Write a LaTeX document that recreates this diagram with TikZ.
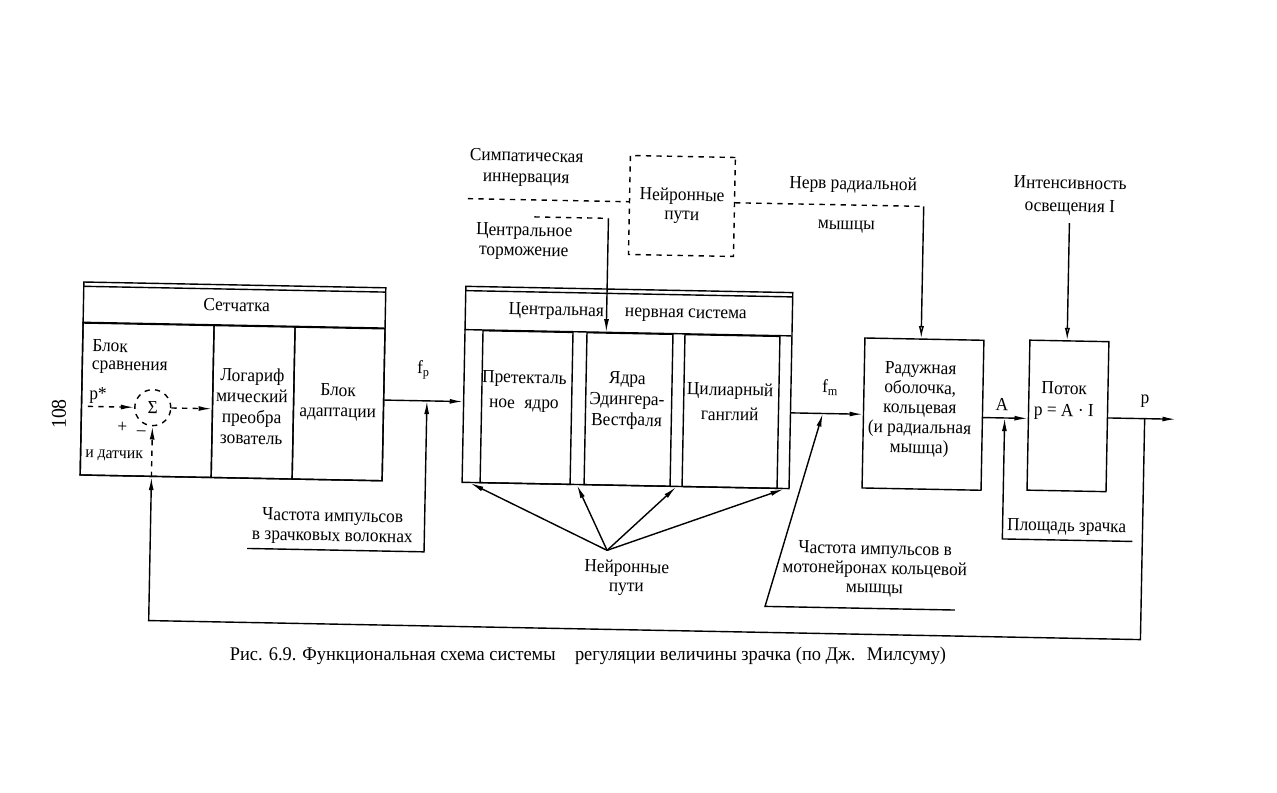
\documentclass[tikz,border=0pt]{standalone}
\usepackage{fontspec}
\setmainfont{Liberation Serif}[FakeStretch=0.94]
\newfontfamily\capfont{Liberation Serif}[FakeStretch=0.95]
\usetikzlibrary{calc}
\usetikzlibrary{positioning}
\usetikzlibrary{arrows.meta}
\tikzset{
  blk/.style 2 args={draw, anchor=north west, inner sep=0pt,
    minimum width=#1*0.02cm, minimum height=#2*0.02cm},
  lh/.style={font=\fontsize{10.5pt}{#1}\selectfont},
  openarr/.style={-{Latex[open,length=7pt,width=3pt]}},
}

\begin{document}
\begin{tikzpicture}[x=0.02cm, y=-0.02cm, line width=0.8pt,
  >={Latex[length=7.5pt,width=2.8pt]},
  every node/.style={font=\fontsize{10.5pt}{11.5pt}\selectfont, inner sep=1pt}]
  \useasboundingbox[fill=white] (0,0) rectangle (1277,793);
  \node[rotate=90, font=\fontsize{12pt}{13pt}\selectfont] (pagenum) at (59,414) {108};

  \begin{scope}[rotate around={-1.1:(640,400)}, transform shape]
  % retina
  \node[blk={302}{193}] (retina) at (81,292) {};
  \draw (81,297) -- (383,297);
  \draw (81,333) -- (383,333);
  \node[blk={131}{152}] (cmpcell) at (81,333) {};
  \node[blk={81}{152}] (logcell) at (212,333) {};
  \node[blk={90}{152}] (adcell) at (293,333) {};
  \node (rettitle) at (235,313) {Сетчатка};
  \node[align=left, anchor=west, lh=10.2pt] (cmptxt) at (89,367) {Блок\\сравнения};
  \node (pstar) at (98,406) {p*};
  \node[draw, dashed, circle, minimum size=36*0.02cm, inner sep=0pt] (sum) at (153,417) {Σ};
  \node (plus) at (123,437) {+};
  \node (minus) at (142,443) {–};
  \node[font=\fontsize{9.5pt}{11pt}\selectfont, anchor=west] (sensor) at (84,466) {и датчик};
  \node[align=center, lh=11.9pt] (logtxt) at (252,414) {Логариф\\мический\\преобра\\зователь};
  \node[align=center, lh=11.9pt] (adtxt) at (338,408) {Блок\\адаптации};

  % central nervous system
  \node[blk={327}{196}] (cns) at (463,289) {};
  \draw (463,294) -- (790,294);
  \draw (463,333) -- (790,333);
  \node[blk={90}{152}] (pret) at (481,333) {};
  \node[blk={86}{152}] (edw) at (585,333) {};
  \node[blk={95}{152}] (cil) at (683,333) {};
  \node (cnstitle) at (626,313) {Центральная\hspace{12pt}нервная система};
  \node[align=center, lh=14.2pt] (prettxt) at (524,394) {Претекталь\\ное\hspace{3pt} ядро};
  \node[align=center, lh=11.9pt] (edwtxt) at (627,401) {Ядра\\Эдингера-\\Вестфаля};
  \node[align=center, lh=14.2pt] (ciltxt) at (730,400) {Цилиарный\\ганглий};

  % iris and light flux
  \node[blk={119}{150}] (iris) at (863,333) {};
  \node[align=center, lh=11.3pt] (iristxt) at (920,404) {Радужная\\оболочка,\\кольцевая\\(и радиальная\\мышца)};
  \node[blk={79}{150}] (flux) at (1028,332) {};
  \node[align=center, lh=12.5pt] (fluxtxt) at (1064,393) {Поток\\p = A · I};

  % upper inputs
  \node[blk={105}{99}, dashed, align=center, lh=11pt] (npath) at (625,155) {Нейронные\\пути};
  \node[align=center, lh=11.9pt] (symp) at (522,170) {Симпатическая\\иннервация};
  \coordinate (sympin) at (464,202);
  \draw[dashed] (sympin) -- (sympin -| npath.west);
  \node[align=center, lh=11.3pt] (inhib) at (521,244) {Центральное\\торможение};
  \coordinate (inhibin) at (531,219);
  \coordinate (inhibc) at (605,219);
  \draw[dashed] (inhibin) -- (inhibc);
  \draw[->] (inhibc) -- (inhibc |- pret.north);
  \node (nerv1) at (849,181) {Нерв радиальной};
  \node (nerv2) at (843,223) {мышцы};
  \coordinate (nervc) at (920,201);
  \draw[dashed] (npath.east |- nervc) -- (nervc);
  \draw[openarr] (nervc) -- (nervc |- iris.north);
  \node[align=center, lh=13pt] (intens) at (1066,188) {Интенсивность\\освещения I};
  \coordinate (lightin) at (1066,215);
  \draw[openarr] (lightin) -- (lightin |- flux.north);

  % main signal path
  \coordinate (pin) at (88,417);
  \draw[dashed, ->] (pin) -- (sum.west);
  \draw[dashed, ->] (sum.east) -- (sum.east -| logcell.west);
  \coordinate (fpj) at (427,405);
  \node (fp) at (423,374) {f\textsubscript{p}};
  \draw[->] (fpj -| retina.east) -- (fpj -| cns.west);
  \coordinate (fpu) at (250,556);
  \draw[->] (fpu) -- (fpu -| fpj) -- (fpj);
  \node[align=center, lh=11.3pt] (freqp) at (335,533) {Частота импульсов\\в зрачковых волокнах};

  \coordinate (fmj) at (823,410);
  \node (fm) at (830,384) {f\textsubscript{m}};
  \draw[->] (fmj -| cns.east) -- (fmj -| iris.west);
  \coordinate (fmu) at (959,604);
  \coordinate (fmc) at (769,604);
  \draw[->] (fmu) -- (fmc) -- (fmj);
  \node[align=center, lh=11pt] (freqm) at (878,565) {Частота импульсов в\\мотонейронах кольцевой\\мышцы};

  \coordinate (aj) at (1005,411);
  \node (alabel) at (1002,398) {A};
  \draw[->] (aj -| iris.east) -- (aj -| flux.west);
  \coordinate (au) at (1135,532);
  \draw[->] (au) -- (au -| aj) -- (aj);
  \node (area) at (1069,519) {Площадь зрачка};

  \coordinate (pj) at (1145,409);
  \coordinate (pout) at (1176,409);
  \node (plabel) at (1145,392) {p};
  \draw[->] (pj -| flux.east) -- (pout);

  % feedback
  \coordinate (fbl) at (153,630);
  \draw[->] (pj) |- (fbl) -- (fbl |- retina.south);
  \draw[dashed, ->] (fbl |- retina.south) -- (sum.south);

  % neural pathways under the CNS
  \node[align=center, lh=10.8pt] (npbot) at (630,578) {Нейронные\\пути};
  \coordinate (npsrc) at (610,551);
  \foreach \l/\r in {cns.south west/pret.south west, pret.south east/edw.south west,
                     edw.south east/cil.south west, cil.south east/cns.south east} {
    \draw[->] (npsrc) -- ($(\l)!0.5!(\r)$);
  }
  \end{scope}

  \node[font={\fontsize{11pt}{12pt}\capfont}] (caption) at (588,656)
    {Рис. 6.9. Функциональная схема системы\hspace{1em}регуляции величины зрачка (по Дж.\hspace{0.6em}Милсуму)};
\end{tikzpicture}
\end{document}
